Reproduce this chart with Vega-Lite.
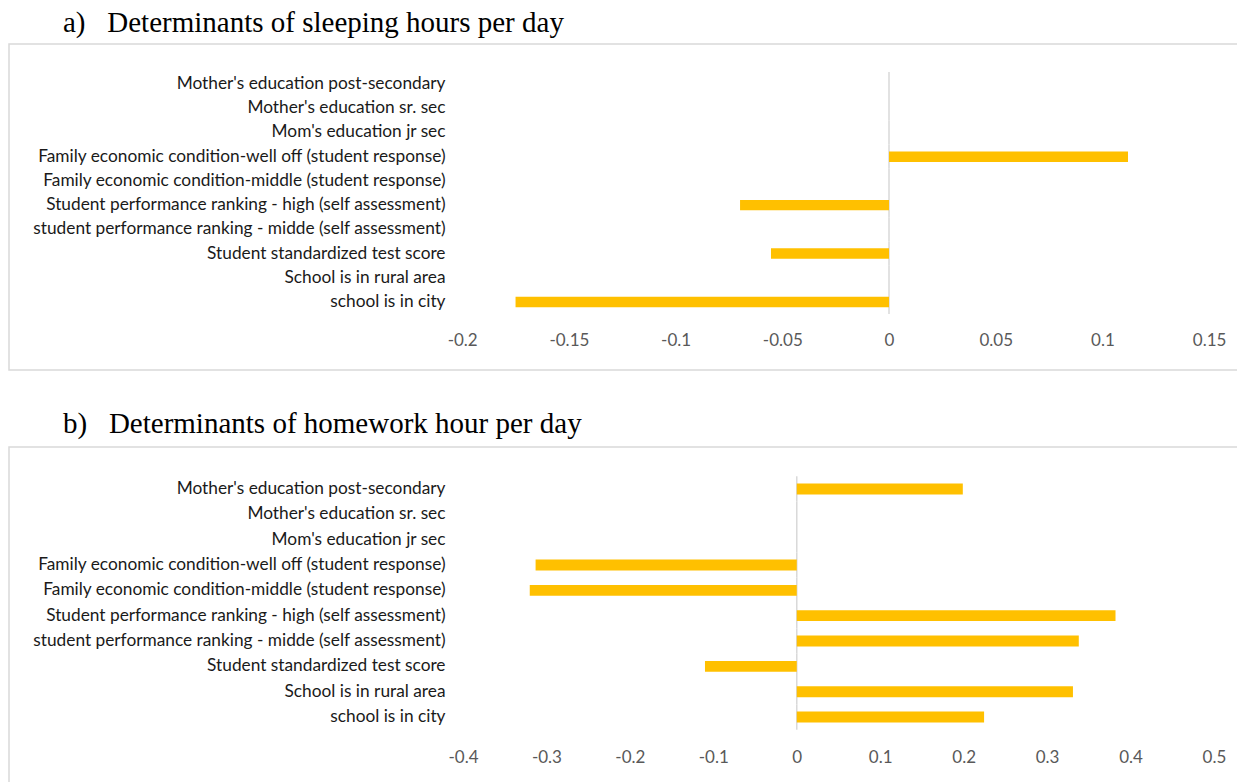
{
  "$schema": "https://vega.github.io/schema/vega-lite/v6.json",
  "padding": {"left": 8, "top": 8, "right": -5, "bottom": -12},
  "spacing": 38,
  "config": {
    "view": {"stroke": "#d9d9d9", "strokeWidth": 1.5},
    "background": "white"
  },
  "datasets": {
    "sleep": [
      {"cat": "Mother's education post-secondary", "value": null},
      {"cat": "Mother's education sr. sec", "value": null},
      {"cat": "Mom's education jr sec", "value": null},
      {"cat": "Family economic condition-well off (student response)", "value": 0.112},
      {"cat": "Family economic condition-middle (student response)", "value": null},
      {"cat": "Student performance ranking - high (self assessment)", "value": -0.0698},
      {"cat": "student performance ranking - midde (self assessment)", "value": null},
      {"cat": "Student standardized test score", "value": -0.0553},
      {"cat": "School is in rural area", "value": null},
      {"cat": "school is in city", "value": -0.175}
    ],
    "homework": [
      {"cat": "Mother's education post-secondary", "value": 0.199},
      {"cat": "Mother's education sr. sec", "value": null},
      {"cat": "Mom's education jr sec", "value": null},
      {"cat": "Family economic condition-well off (student response)", "value": -0.313},
      {"cat": "Family economic condition-middle (student response)", "value": -0.32},
      {"cat": "Student performance ranking - high (self assessment)", "value": 0.382},
      {"cat": "student performance ranking - midde (self assessment)", "value": 0.338},
      {"cat": "Student standardized test score", "value": -0.11},
      {"cat": "School is in rural area", "value": 0.331},
      {"cat": "school is in city", "value": 0.2245}
    ]
  },
  "vconcat": [
    {
      "width": 1232,
      "height": 326,
      "data": {"name": "sleep"},
      "title": {
        "text": "a)\u00a0\u00a0\u00a0Determinants of sleeping hours per day",
        "anchor": "start", "frame": "group", "dx": 54,
        "font": "Liberation Serif", "fontSize": 29, "fontWeight": "normal",
        "color": "#000000", "baseline": "alphabetic", "offset": -17
      },
      "encoding": {
        "y": {
          "field": "cat", "type": "nominal",
          "scale": {
            "domain": ["Mother's education post-secondary", "Mother's education sr. sec", "Mom's education jr sec", "Family economic condition-well off (student response)", "Family economic condition-middle (student response)", "Student performance ranking - high (self assessment)", "student performance ranking - midde (self assessment)", "Student standardized test score", "School is in rural area", "school is in city"],
            "range": [27.9, 270.1], "paddingInner": 0, "paddingOuter": 0
          },
          "axis": {
            "title": null, "offset": -454, "labelPadding": 18, "ticks": false, "tickSize": 0,
            "domain": false, "labelFont": "Lato", "labelFontSize": 17.3, "labelColor": "#1a1a1a", "labelLimit": 600
          }
        }
      },
      "layer": [
        {
          "mark": {"type": "bar", "fill": "#d9d9d9", "stroke": "#d9d9d9", "strokeWidth": 1.5, "height": {"band": 1}},
          "encoding": {
            "x": {"datum": 0, "type": "quantitative"},
            "x2": {"datum": 0}
          }
        },
        {
          "mark": {"type": "bar", "color": "#FFC000", "height": {"band": 0.43}},
          "encoding": {
            "x": {
              "field": "value", "type": "quantitative",
              "scale": {"domain": [-0.41237, 0.16495], "nice": false, "zero": false},
              "axis": {
                "values": [-0.2, -0.15, -0.1, -0.05, 0, 0.05, 0.1, 0.15],
                "title": null, "grid": false, "domain": false, "ticks": false, "tickSize": 0,
                "labelPadding": 0, "offset": -38, "labelFont": "Lato", "labelFontSize": 17,
                "labelColor": "#595959", "labelBaseline": "top",
                "labelExpr": "datum.value == 0 ? '0' : (datum.value < 0 ? '-' + format(-datum.value, '') : format(datum.value, ''))"
              }
            }
          }
        }
      ]
    },
    {
      "width": 1232,
      "height": 346,
      "data": {"name": "homework"},
      "title": {
        "text": "b)\u00a0\u00a0\u00a0Determinants of homework hour per day",
        "anchor": "start", "frame": "group", "dx": 54,
        "font": "Liberation Serif", "fontSize": 29, "fontWeight": "normal",
        "color": "#000000", "baseline": "alphabetic", "offset": -15
      },
      "encoding": {
        "y": {
          "field": "cat", "type": "nominal",
          "scale": {
            "domain": ["Mother's education post-secondary", "Mother's education sr. sec", "Mom's education jr sec", "Family economic condition-well off (student response)", "Family economic condition-middle (student response)", "Student performance ranking - high (self assessment)", "student performance ranking - midde (self assessment)", "Student standardized test score", "School is in rural area", "school is in city"],
            "range": [29.3, 282.7], "paddingInner": 0, "paddingOuter": 0
          },
          "axis": {
            "title": null, "offset": -454, "labelPadding": 18, "ticks": false, "tickSize": 0,
            "domain": false, "labelFont": "Lato", "labelFontSize": 17.3, "labelColor": "#1a1a1a", "labelLimit": 600
          }
        }
      },
      "layer": [
        {
          "mark": {"type": "bar", "fill": "#d9d9d9", "stroke": "#d9d9d9", "strokeWidth": 1.5, "height": {"band": 1}},
          "encoding": {
            "x": {"datum": 0, "type": "quantitative"},
            "x2": {"datum": 0}
          }
        },
        {
          "mark": {"type": "bar", "color": "#FFC000", "height": {"band": 0.43}},
          "encoding": {
            "x": {
              "field": "value", "type": "quantitative",
              "scale": {"domain": [-0.9441, 0.5324], "nice": false, "zero": false},
              "axis": {
                "values": [-0.4, -0.3, -0.2, -0.1, 0, 0.1, 0.2, 0.3, 0.4, 0.5],
                "title": null, "grid": false, "domain": false, "ticks": false, "tickSize": 0,
                "labelPadding": 0, "offset": -44, "labelFont": "Lato", "labelFontSize": 17,
                "labelColor": "#595959", "labelBaseline": "top",
                "labelExpr": "datum.value == 0 ? '0' : (datum.value < 0 ? '-' + format(-datum.value, '') : format(datum.value, ''))"
              }
            }
          }
        }
      ]
    }
  ]
}
